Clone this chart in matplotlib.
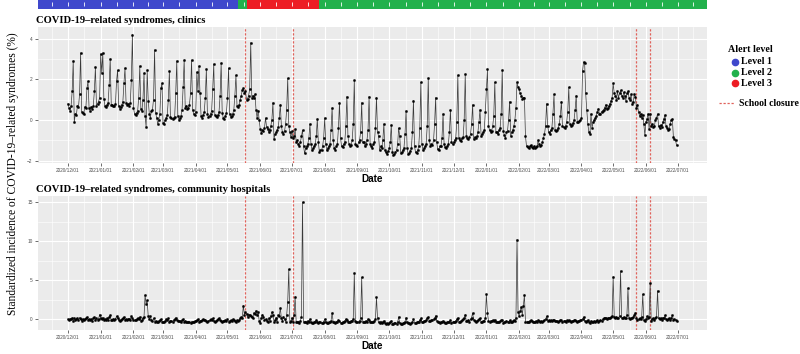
import numpy as np
import pandas as pd
import matplotlib
matplotlib.use('Agg')
import matplotlib.pyplot as plt
import matplotlib.dates as mdates
from matplotlib.lines import Line2D

# daily values 2020-12-01 .. 2022-06-30, one row per week (Tue..Mon)
clinics_weeks = [
    [0.8, 0.6, 0.45, 0.7, 1.4, 2.9, -0.1],
    [0.3, 0.25, 0.7, 0.65, 1.25, 3.3, 0.4],
    [0.35, 0.3, 0.65, 0.6, 1.55, 1.9, 0.6],
    [0.45, 0.65, 0.55, 0.7, 1.4, 2.6, 0.7],
    [0.8, 0.9, 1.1, 3.25, 2.3, 3.3, 1.05],
    [0.7, 0.65, 0.75, 0.85, 1.7, 3.0, 0.75],
    [0.75, 0.7, 0.7, 0.8, 1.9, 2.45, 0.7],
    [0.55, 0.65, 0.75, 0.9, 1.8, 2.55, 0.85],
    [0.75, 0.8, 0.7, 0.85, 1.95, 4.2, 0.6],
    [0.3, 0.25, 0.35, 0.45, 1.1, 2.65, 0.55],
    [0.45, 1.0, 2.3, 0.2, -0.35, 2.45, 0.95],
    [0.3, 0.1, 0.45, 0.5, 1.0, 3.45, 0.35],
    [0.1, -0.2, 0.0, 0.3, 1.55, 1.8, -0.15],
    [-0.2, 0.0, 0.1, 0.25, 1.0, 2.4, 0.15],
    [0.1, 0.05, 0.1, 0.15, 1.3, 2.9, 0.2],
    [0.0, 0.1, 0.2, 0.5, 1.6, 2.95, 0.6],
    [0.7, 0.55, 0.6, 0.75, 1.3, 2.95, 0.5],
    [0.3, 0.25, 0.4, 2.35, 1.4, 2.65, 1.3],
    [0.2, 0.1, 0.25, 0.4, 1.1, 2.5, 0.3],
    [0.15, 0.2, 0.3, 0.45, 1.5, 2.75, 0.25],
    [0.2, 0.15, 0.25, 0.4, 1.2, 2.8, 0.35],
    [0.1, 0.05, 0.2, 0.35, 1.1, 2.55, 0.3],
    [0.15, 0.2, 0.3, 0.5, 1.2, 2.2, 0.7],
    [0.65, 0.75, 1.0, 1.2, 1.45, 1.55, 1.3],
    [1.4, 1.0, 1.05, 1.2, 1.5, 3.8, 1.1],
    [1.2, 1.1, 1.25, 0.5, 0.1, 0.45, 0.0],
    [-0.45, -0.65, -0.5, -0.55, -0.4, 0.1, -0.35],
    [-0.45, -0.6, -0.5, -0.3, 0.0, 0.85, -0.95],
    [-0.7, -0.6, -0.5, -0.35, 0.1, 0.75, -0.3],
    [-0.6, -0.7, -0.55, -0.2, 0.5, 2.05, -0.3],
    [-0.6, -0.85, -0.55, -0.9, -0.8, -0.45, -1.1],
    [-1.0, -1.2, -1.3, -1.1, -0.8, -0.5, -1.3],
    [-1.65, -1.4, -1.3, -1.2, -0.9, -0.2, -1.2],
    [-1.5, -1.4, -1.3, -1.2, -0.8, 0.05, -1.1],
    [-1.6, -1.5, -1.5, -1.3, -0.9, 0.1, -1.2],
    [-1.5, -1.4, -1.3, -1.2, -0.5, 0.6, -1.0],
    [-1.4, -1.5, -1.3, -1.2, -0.4, 0.85, -0.9],
    [-1.3, -1.35, -1.2, -1.1, -0.3, 1.15, -0.8],
    [-1.2, -1.3, -1.25, -1.0, -0.2, 1.95, -1.2],
    [-1.25, -1.3, -1.1, -1.0, -0.6, 0.85, -1.1],
    [-1.1, -1.3, -1.2, -1.0, -0.5, 1.15, -1.2],
    [-1.3, -1.4, -1.2, -1.1, -0.4, 1.1, -0.6],
    [-0.8, -1.5, -1.3, -1.4, -1.0, -0.2, -1.5],
    [-1.6, -1.7, -1.55, -1.4, -1.1, -0.25, -1.6],
    [-1.75, -1.7, -1.6, -1.5, -1.2, -0.4, -0.8],
    [-1.65, -1.6, -1.5, -1.4, -0.7, 0.45, -1.4],
    [-1.7, -1.65, -1.55, -1.4, -0.6, 0.95, -1.3],
    [-1.6, -1.65, -1.5, -1.3, -0.4, 1.85, -1.2],
    [-1.5, -1.4, -1.3, -1.2, -0.3, 2.05, -1.0],
    [-1.3, -1.2, -1.25, -1.0, -0.2, 1.1, -1.1],
    [-1.45, -1.5, -1.3, -1.3, -0.9, 0.3, -1.2],
    [-1.35, -1.4, -1.3, -1.2, -0.6, 0.5, -1.1],
    [-1.2, -1.1, -1.0, -0.9, -0.1, 2.2, -0.9],
    [-1.0, -1.05, -0.9, -0.85, 0.0, 2.25, -0.8],
    [-0.9, -0.95, -0.85, -0.7, -0.2, 0.75, -0.95],
    [-0.85, -0.9, -0.8, -0.6, -0.1, 0.5, -0.8],
    [-0.7, -0.6, -0.5, 0.4, 1.5, 2.5, -0.3],
    [-0.5, -0.6, -0.55, -0.3, 0.2, 1.85, -0.6],
    [-0.6, -0.7, -0.5, -0.4, 0.3, 2.45, -0.55],
    [-0.75, -0.9, -0.6, -0.55, 0.0, 0.9, -0.8],
    [-0.6, -0.5, -0.3, 0.0, 0.6, 1.85, 1.6],
    [1.5, 1.3, 1.2, 1.05, 1.1, 1.1, -0.8],
    [-1.3, -1.35, -1.4, -1.3, -1.25, -1.35, -1.4],
    [-1.3, -1.4, -1.35, -1.3, -1.0, -1.2, -1.3],
    [-1.25, -1.1, -0.9, -0.7, -0.3, 0.8, -0.3],
    [-0.6, -0.7, -0.5, -0.4, 0.3, 1.25, -0.5],
    [-0.55, -0.5, -0.4, -0.2, 0.2, 0.9, -0.3],
    [-0.35, -0.4, -0.3, -0.1, 0.4, 1.6, -0.2],
    [-0.3, -0.25, -0.15, 0.0, 0.5, 1.2, -0.1],
    [-0.1, -0.05, 0.0, 0.1, 2.4, 2.85, 2.8],
    [1.3, 0.5, -0.2, -0.6, -0.7, 0.3, -0.4],
    [-0.1, 0.0, 0.1, 0.2, 0.4, 0.55, 0.3],
    [0.3, 0.4, 0.45, 0.5, 0.6, 0.75, 0.55],
    [0.6, 0.7, 0.8, 0.95, 1.1, 1.8, 1.3],
    [1.2, 1.0, 1.4, 1.1, 1.3, 1.45, 1.2],
    [1.1, 1.35, 1.2, 0.95, 1.3, 1.4, 1.1],
    [1.0, 1.25, 0.8, 0.9, 1.25, 1.15, 0.6],
    [0.75, 0.4, 0.2, 0.3, 0.1, 0.25, -0.2],
    [-0.75, -0.1, 0.05, 0.3, -0.45, 0.28, -0.3],
    [-0.2, -0.35, -0.3, 0.0, 0.1, 0.3, -0.3],
    [-0.4, -0.25, -0.35, -0.1, 0.05, 0.25, -0.3],
    [-0.4, -0.5, -0.45, -0.2, 0.0, 0.05, -0.85],
    [-0.95, -1.0, -1.25],
]

hospitals_weeks = [
    [0.0, -0.1, 0.05, 0.0, 0.2, -0.2, 0.1],
    [-0.1, 0.0, 0.1, -0.1, 0.2, 0.05, -0.2],
    [0.0, -0.15, 0.05, 0.1, 0.3, -0.1, 0.0],
    [-0.1, 0.0, -0.2, 0.1, 0.25, -0.05, 0.1],
    [-0.05, 0.05, 0.6, 0.1, 0.0, 0.2, -0.1],
    [0.0, -0.15, 0.1, -0.1, 0.3, 0.5, -0.1],
    [-0.05, 0.05, -0.1, 0.0, 0.4, 0.1, -0.1],
    [-0.2, -0.1, 0.0, 0.1, 0.3, -0.1, 0.0],
    [-0.1, 0.0, 0.05, -0.05, 0.35, 0.1, -0.1],
    [-0.15, -0.1, 0.0, 0.15, 0.0, 0.3, -0.2],
    [-0.1, 0.1, 0.3, 3.1, 2.0, 2.4, 0.4],
    [0.0, 0.4, -0.1, -0.2, 0.1, -0.3, -0.2],
    [-0.3, -0.35, -0.2, -0.1, 0.0, -0.3, -0.4],
    [-0.3, -0.2, 0.0, -0.1, 0.1, -0.35, -0.2],
    [-0.25, -0.3, -0.1, 0.0, 0.2, -0.1, -0.2],
    [-0.2, -0.25, -0.3, -0.1, 0.0, -0.3, -0.2],
    [-0.35, -0.4, -0.3, -0.35, -0.45, -0.3, -0.4],
    [-0.3, -0.25, -0.2, -0.1, 0.0, -0.3, -0.2],
    [-0.2, -0.1, 0.0, -0.15, -0.05, -0.25, -0.3],
    [-0.2, -0.15, 0.0, -0.1, 0.1, -0.2, -0.3],
    [-0.25, -0.1, 0.0, 0.15, -0.1, -0.2, -0.3],
    [-0.2, -0.25, -0.1, -0.2, 0.0, -0.3, -0.2],
    [-0.15, -0.2, 0.0, -0.1, -0.2, -0.3, -0.1],
    [-0.2, -0.1, 0.1, 0.3, 0.2, 1.75, 0.6],
    [0.9, 0.7, 0.3, 0.6, 0.5, 0.4, 0.3],
    [0.2, 0.8, 0.7, 1.1, 0.5, 0.9, -0.2],
    [-0.5, 0.2, 0.6, 0.3, -0.1, 0.0, -0.2],
    [-0.3, 0.1, -0.2, 0.4, 0.9, 0.6, -0.3],
    [-0.1, 0.2, -0.3, 0.5, 0.4, 1.45, 0.1],
    [-0.2, 0.3, 0.0, -0.3, 0.5, 2.25, 6.4],
    [-0.4, -0.2, 0.2, -0.3, 0.5, 2.9, -0.3],
    [-0.4, -0.3, -0.45, -0.2, 0.3, 15.0, -0.3],
    [-0.4, -0.3, -0.5, -0.2, -0.35, 0.0, -0.4],
    [-0.5, -0.45, -0.3, -0.4, -0.1, -0.3, -0.5],
    [-0.3, -0.4, -0.5, -0.45, -0.3, 0.0, -0.4],
    [-0.5, -0.45, -0.35, -0.4, -0.2, 0.8, -0.3],
    [-0.4, -0.5, -0.35, -0.3, -0.1, -0.2, -0.45],
    [-0.5, -0.35, -0.3, -0.2, 0.0, -0.1, -0.4],
    [-0.3, -0.4, -0.2, -0.25, 0.0, 5.9, -0.2],
    [-0.3, -0.4, -0.35, -0.2, 0.1, 5.35, -0.3],
    [-0.4, -0.3, -0.2, -0.35, 0.0, -0.1, -0.4],
    [-0.35, -0.4, -0.3, -0.2, 0.0, 2.8, 0.1],
    [-0.4, -0.45, -0.3, -0.5, -0.35, -0.2, -0.5],
    [-0.55, -0.5, -0.6, -0.45, -0.3, -0.2, -0.55],
    [-0.6, -0.5, -0.45, -0.55, -0.4, 0.3, -0.5],
    [-0.55, -0.6, -0.5, -0.45, -0.3, 0.2, -0.4],
    [-0.5, -0.45, -0.6, -0.5, -0.35, 0.0, -0.45],
    [-0.5, -0.4, -0.35, -0.3, -0.1, 0.1, -0.4],
    [-0.3, -0.2, -0.25, -0.1, 0.15, 0.3, -0.2],
    [-0.2, -0.15, -0.1, 0.0, 0.1, 0.45, -0.2],
    [-0.3, -0.4, -0.45, -0.35, -0.3, -0.2, -0.4],
    [-0.45, -0.5, -0.4, -0.35, -0.3, -0.1, -0.45],
    [-0.4, -0.35, -0.3, -0.2, 0.0, 0.2, -0.3],
    [-0.3, -0.2, -0.1, 0.0, 0.2, 0.6, -0.2],
    [-0.2, -0.1, -0.3, 0.0, 0.2, 0.8, -0.1],
    [-0.2, -0.3, -0.2, -0.1, 0.0, 0.1, -0.35],
    [-0.3, -0.25, -0.2, 0.1, 3.2, 0.8, -0.2],
    [-0.3, -0.2, -0.25, -0.1, -0.2, -0.05, -0.3],
    [-0.35, -0.4, -0.3, -0.25, -0.15, -0.1, -0.5],
    [-0.4, -0.3, -0.2, -0.3, -0.4, -0.15, -0.3],
    [-0.3, -0.2, -0.1, -0.2, 0.2, 10.2, 0.9],
    [0.4, 1.1, 1.6, 0.6, 1.7, 3.1, -0.3],
    [-0.4, -0.3, -0.35, -0.2, -0.1, -0.25, -0.4],
    [-0.3, -0.35, -0.2, -0.3, -0.1, -0.2, -0.3],
    [-0.25, -0.3, -0.2, -0.1, 0.0, 0.35, -0.2],
    [-0.1, -0.2, -0.15, -0.25, -0.1, -0.05, -0.2],
    [-0.2, -0.25, -0.3, -0.2, -0.1, -0.15, -0.3],
    [-0.25, -0.2, -0.3, -0.15, -0.2, -0.1, -0.25],
    [-0.3, -0.2, -0.25, -0.15, -0.1, -0.2, -0.3],
    [-0.2, -0.25, -0.15, -0.1, 0.0, 0.3, -0.2],
    [-0.3, -0.2, -0.1, -0.3, -0.45, -0.2, -0.3],
    [-0.35, -0.2, -0.4, -0.25, -0.1, -0.3, -0.2],
    [-0.1, -0.2, 0.0, 0.1, 0.2, 0.15, 0.0],
    [0.1, 0.2, 0.1, 0.3, 0.4, 5.45, 0.3],
    [0.2, 0.3, 0.1, 0.2, 0.4, 6.2, 0.2],
    [0.1, 0.3, 0.2, 0.1, 0.5, 3.95, 0.2],
    [0.0, 0.1, 0.2, 0.3, 0.5, 0.8, 0.1],
    [-0.1, 0.0, 0.1, 0.0, 0.3, 3.2, -0.1],
    [-0.2, 0.0, 0.4, 0.2, 0.3, 4.6, -0.2],
    [0.0, 0.1, -0.1, 0.2, 0.3, 3.65, 0.1],
    [0.0, 0.1, -0.1, 0.2, 0.1, 0.5, 0.0],
    [-0.1, 0.0, 0.1, -0.05, 0.2, 0.5, -0.1],
    [0.0, -0.1, -0.2],
]

# alert level periods (start date of each period)
alert_starts = ['2020-11-01', '2021-05-11', '2021-05-19', '2021-07-27']
alert_levels = [1, 2, 3, 2]
level_colors = {1: '#3F48CC', 2: '#22B14C', 3: '#ED1C24'}

closure_dates = ['2021-05-18', '2021-07-02', '2022-05-23', '2022-06-05']
closure_color = '#E0615A'

clinics = np.array([v for w in clinics_weeks for v in w])
hospitals = np.array([v for w in hospitals_weeks for v in w])
dates = pd.date_range('2020-12-01', periods=len(clinics), freq='D')
closure_num = mdates.date2num(pd.to_datetime(closure_dates))

serif = 'Liberation Serif'
sans = 'Liberation Sans'

# ggplot style expansion of the date axis
d0, d1 = mdates.date2num(dates[0]), mdates.date2num(dates[-1])
pad = (d1 - d0) * 0.05
xlim = (d0 - pad, d1 + pad)

major = pd.date_range('2020-12-01', '2022-07-01', freq='MS')
major_num = mdates.date2num(major)
minor_num = np.concatenate([[major_num[0] - (major_num[1] - major_num[0]) / 2],
                            (major_num[:-1] + major_num[1:]) / 2,
                            [major_num[-1] + 15]])

W, H = 800, 354
fig = plt.figure(figsize=(8, 3.54), dpi=100)
L, R = 37.5, 707


def box(top, bottom):
    return [L / W, 1 - bottom / H, (R - L) / W, (bottom - top) / H]


# alert level strip
ax_bar = fig.add_axes(box(0, 9))
ends = [mdates.date2num(pd.Timestamp(s)) for s in alert_starts[1:]] + [xlim[1]]
starts = [xlim[0]] + ends[:-1]
for s, e, lv in zip(starts, ends, alert_levels):
    ax_bar.axvspan(s, e, color=level_colors[lv], lw=0)
ax_bar.vlines(np.concatenate([major_num, minor_num]), 0.3, 0.75, color='white', lw=0.6)
ax_bar.set_xlim(xlim)
ax_bar.set_ylim(0, 1)
ax_bar.axis('off')


def panel(ax, y, ylim, yticks, yminor, title):
    ax.set_facecolor('#EBEBEB')
    for s in ax.spines.values():
        s.set_visible(False)
    ax.set_xlim(xlim)
    ax.set_ylim(ylim)
    ax.set_xticks(major_num)
    ax.set_xticks(minor_num, minor=True)
    ax.set_xticklabels([d.strftime('%Y/%m/%d') for d in major])
    ax.set_yticks(yticks)
    ax.set_yticks(yminor, minor=True)
    ax.grid(which='major', color='white', lw=0.8)
    ax.grid(which='minor', color='white', lw=0.4)
    ax.set_axisbelow(True)
    ax.tick_params(which='major', length=2, width=0.5, color='#333333',
                   labelsize=3.4, labelcolor='#4D4D4D', pad=1.5)
    ax.tick_params(which='minor', length=0)
    for lab in ax.get_xticklabels() + ax.get_yticklabels():
        lab.set_family(sans)
    ax.vlines(closure_num, ylim[0], ylim[1], colors=closure_color, lw=0.9,
              linestyles=(0, (1.8, 1.4)), zorder=1.5)
    ax.plot(dates, y, color='#3A3A3A', lw=0.5, marker='o', ms=1.7,
            mfc='black', mec='black', mew=0.2, zorder=2)
    ax.set_xlabel('Date', family=sans, fontweight='bold', fontsize=7.2, labelpad=1)
    ax.set_title(title, family=serif, fontweight='bold', fontsize=7.6, loc='left',
                 x=-0.002, pad=3)


ax1 = fig.add_axes(box(27, 163))
panel(ax1, clinics, (-2.12, 4.57), [-2, 0, 2, 4], [-1, 1, 3],
      'COVID-19\u2013related syndromes, clinics')

ax2 = fig.add_axes(box(196, 330))
panel(ax2, hospitals, (-1.38, 15.78), [0, 5, 10, 15], [2.5, 7.5, 12.5],
      'COVID-19\u2013related syndromes, community hospitals')

fig.text(13 / W, 1 - 174 / H,
         'Standardized incidence of COVID-19\u2013related syndromes (%)',
         family=serif, fontsize=8.3, rotation=90, ha='center', va='center')

# legend
fig.text(750 / W, 1 - 50 / H, 'Alert level', family=serif, fontweight='bold',
         fontsize=7.2, ha='center', va='center')
for i, lv in enumerate([1, 2, 3]):
    yy = 1 - (62 + 10.5 * i) / H
    fig.add_artist(Line2D([735 / W], [yy], marker='o', ms=4.5, color=level_colors[lv],
                          transform=fig.transFigure, lw=0))
    fig.text(741 / W, yy, 'Level %d' % lv, family=serif, fontweight='bold',
             fontsize=7.2, ha='left', va='center')
yy = 1 - 103 / H
fig.add_artist(Line2D([719 / W, 734 / W], [yy, yy], color=closure_color, lw=0.9,
                      ls=(0, (1.8, 1.4)), transform=fig.transFigure))
fig.text(739 / W, yy, 'School closure', family=serif, fontweight='bold',
         fontsize=7.0, ha='left', va='center')

fig.savefig('out.png', dpi=100)
